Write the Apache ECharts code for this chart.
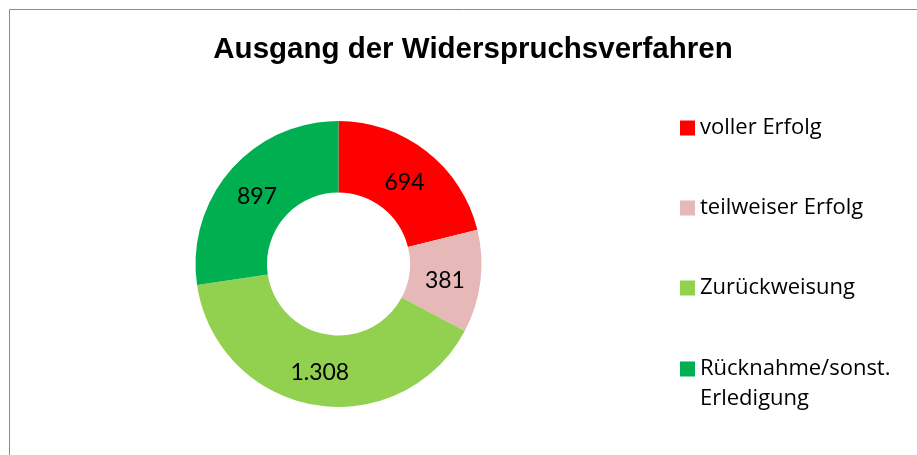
<!DOCTYPE html>
<html>
<head>
<meta charset="utf-8">
<script src="https://cdn.jsdelivr.net/npm/echarts@6/dist/echarts.min.js"></script>
<style>
  html, body { margin: 0; padding: 0; background: #fff; }
  #chart { width: 917px; height: 455px; }
</style>
</head>
<body>
<div id="chart"></div>
<script>
// Outcome categories and counts
const categories = ['voller Erfolg', 'teilweiser Erfolg', 'Zurückweisung', 'Rücknahme/sonst. Erledigung'];
const values = [694, 381, 1308, 897];
const colors = ['#ff0000', '#e6b8b7', '#92d050', '#00b050'];
const titleText = 'Ausgang der Widerspruchsverfahren';

// German thousands separator (1.308)
function fmt(v) {
  return String(v).replace(/\B(?=(\d{3})+(?!\d))/g, '.');
}

const chart = echarts.init(document.getElementById('chart'), null, { renderer: 'canvas' });

const labelFont = 'Lato';
const legendFont = 'Open Sans';
const legendTops = [108, 188, 268, 349];
// small nudges so the value labels sit where they read best in each ring segment
const labelOffsets = [[-2, 5], [-3, 3], [0, 0], [2, 5]];

// One legend block per entry so each row sits on its own line
const legends = categories.map((name, i) => {
  const last = i === categories.length - 1;
  return {
    orient: 'vertical',
    left: 675,
    top: legendTops[i],
    data: [{
      name: name,
      // square at the top of a taller box so it lines up with the first text line
      icon: last ? 'path://M0,0h15v15h-15z M0,44.9h0.01v0.01h-0.01z' : 'rect'
    }],
    itemWidth: 15,
    itemHeight: last ? 45 : 15,
    itemGap: 8,
    selectedMode: false,
    formatter: last ? () => 'Rücknahme/sonst.\nErledigung' : undefined,
    textStyle: {
      fontFamily: legendFont,
      fontSize: 22,
      color: '#000',
      lineHeight: 30
    }
  };
});

chart.setOption({
  animation: false,
  color: colors,
  title: {
    text: titleText,
    left: 468,
    textAlign: 'center',
    top: 30,
    textStyle: {
      fontFamily: 'Liberation Sans',
      fontWeight: 'bold',
      fontSize: 29.5,
      color: '#000'
    }
  },
  legend: legends,
  graphic: [{
    type: 'rect',
    shape: { x: 9.5, y: 9.5, width: 940, height: 480 },
    style: { fill: 'none', stroke: '#8c8c8c', lineWidth: 1 },
    silent: true,
    z: -1
  }],
  series: [{
    type: 'pie',
    center: [338.5, 264],
    radius: [71.5, 143],
    startAngle: 90,
    clockwise: true,
    avoidLabelOverlap: false,
    label: {
      show: true,
      position: 'inside',
      formatter: p => fmt(p.value),
      fontFamily: labelFont,
      fontSize: 23,
      color: '#000'
    },
    labelLine: { show: false },
    itemStyle: { borderWidth: 0 },
    emphasis: { disabled: true },
    data: categories.map((c, i) => ({
      name: c,
      value: values[i],
      label: { offset: labelOffsets[i] }
    }))
  }]
});
</script>
</body>
</html>
